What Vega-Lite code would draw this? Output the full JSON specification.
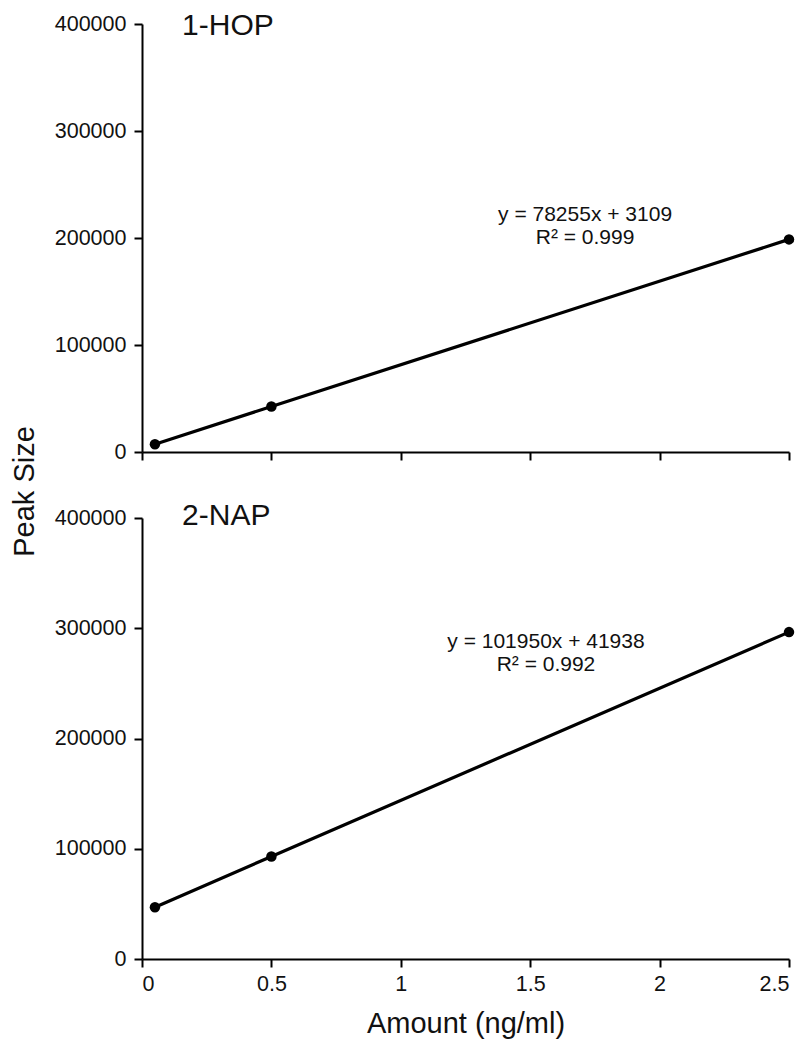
{
  "$schema": "https://vega.github.io/schema/vega-lite/v6.json",
  "padding": {"left": 10, "top": 11, "right": 5, "bottom": 5},
  "background": "white",
  "config": {
    "view": {"stroke": null},
    "font": "Liberation Sans",
    "axis": {
      "grid": false,
      "domainColor": "#000",
      "domainWidth": 2,
      "tickColor": "#000",
      "tickWidth": 2,
      "tickSize": 8,
      "labelFont": "Liberation Sans",
      "labelFontSize": 21.5,
      "labelColor": "#111",
      "titleFont": "Liberation Sans",
      "titleFontSize": 29,
      "titleFontWeight": "normal",
      "titleColor": "#111"
    },
    "axisX": {"labelPadding": 6, "titlePadding": 15},
    "axisY": {"labelPadding": 8, "titlePadding": 15}
  },
  "datasets": {
    "pts": [
      {"panel": "1-HOP", "amount": 0.05, "peak": 7200},
      {"panel": "1-HOP", "amount": 0.5, "peak": 42500},
      {"panel": "1-HOP", "amount": 2.5, "peak": 198700},
      {"panel": "2-NAP", "amount": 0.05, "peak": 47000},
      {"panel": "2-NAP", "amount": 0.5, "peak": 93000},
      {"panel": "2-NAP", "amount": 2.5, "peak": 296500}
    ],
    "notes": [
      {"panel": "1-HOP", "title": "1-HOP", "eq": "y = 78255x + 3109", "r2": "R² = 0.999"},
      {"panel": "2-NAP", "title": "2-NAP", "eq": "y = 101950x + 41938", "r2": "R² = 0.992"}
    ]
  },
  "spacing": 66,
  "bounds": "flush",
  "vconcat": [
    {
      "width": 647,
      "height": 428,
      "layer": [
        {
          "data": {"name": "pts"},
          "transform": [{"filter": "datum.panel === '1-HOP'"}],
          "mark": {"type": "line", "color": "#000", "strokeWidth": 3.2},
          "encoding": {
            "x": {"field": "amount", "type": "quantitative", "scale": {"domain": [0, 2.5], "nice": false},
                  "axis": {"labels": false, "title": null, "values": [0, 0.5, 1, 1.5, 2, 2.5]}},
            "y": {"field": "peak", "type": "quantitative", "scale": {"domain": [0, 400000], "nice": false},
                  "axis": {"values": [0, 100000, 200000, 300000, 400000], "format": "d", "title": "Peak Size", "titleY": 467}}
          }
        },
        {
          "data": {"name": "pts"},
          "transform": [{"filter": "datum.panel === '1-HOP'"}],
          "mark": {"type": "point", "filled": true, "color": "#000", "size": 110, "opacity": 1},
          "encoding": {
            "x": {"field": "amount", "type": "quantitative"},
            "y": {"field": "peak", "type": "quantitative"}
          }
        },
        {
          "data": {"name": "notes"},
          "transform": [{"filter": "datum.panel === '1-HOP'"}],
          "mark": {"type": "text", "align": "left", "baseline": "middle", "fontSize": 30, "color": "#111"},
          "encoding": {
            "x": {"datum": 0.155, "type": "quantitative"},
            "y": {"datum": 398000, "type": "quantitative"},
            "text": {"field": "title"}
          }
        },
        {
          "data": {"name": "notes"},
          "transform": [{"filter": "datum.panel === '1-HOP'"}],
          "mark": {"type": "text", "align": "center", "baseline": "middle", "fontSize": 21, "color": "#111"},
          "encoding": {
            "x": {"datum": 1.712, "type": "quantitative"},
            "y": {"datum": 221500, "type": "quantitative"},
            "text": {"field": "eq"}
          }
        },
        {
          "data": {"name": "notes"},
          "transform": [{"filter": "datum.panel === '1-HOP'"}],
          "mark": {"type": "text", "align": "center", "baseline": "middle", "fontSize": 21, "color": "#111"},
          "encoding": {
            "x": {"datum": 1.712, "type": "quantitative"},
            "y": {"datum": 200000, "type": "quantitative"},
            "text": {"field": "r2"}
          }
        }
      ]
    },
    {
      "width": 647,
      "height": 441,
      "layer": [
        {
          "data": {"name": "pts"},
          "transform": [{"filter": "datum.panel === '2-NAP'"}],
          "mark": {"type": "line", "color": "#000", "strokeWidth": 3.2},
          "encoding": {
            "x": {"field": "amount", "type": "quantitative", "scale": {"domain": [0, 2.5], "nice": false},
                  "axis": {"title": "Amount  (ng/ml)", "values": [0, 0.5, 1, 1.5, 2, 2.5], "format": "~g"}},
            "y": {"field": "peak", "type": "quantitative", "scale": {"domain": [0, 400000], "nice": false},
                  "axis": {"values": [0, 100000, 200000, 300000, 400000], "format": "d", "title": null}}
          }
        },
        {
          "data": {"name": "pts"},
          "transform": [{"filter": "datum.panel === '2-NAP'"}],
          "mark": {"type": "point", "filled": true, "color": "#000", "size": 110, "opacity": 1},
          "encoding": {
            "x": {"field": "amount", "type": "quantitative"},
            "y": {"field": "peak", "type": "quantitative"}
          }
        },
        {
          "data": {"name": "notes"},
          "transform": [{"filter": "datum.panel === '2-NAP'"}],
          "mark": {"type": "text", "align": "left", "baseline": "middle", "fontSize": 30, "color": "#111"},
          "encoding": {
            "x": {"datum": 0.155, "type": "quantitative"},
            "y": {"datum": 401800, "type": "quantitative"},
            "text": {"field": "title"}
          }
        },
        {
          "data": {"name": "notes"},
          "transform": [{"filter": "datum.panel === '2-NAP'"}],
          "mark": {"type": "text", "align": "center", "baseline": "middle", "fontSize": 21, "color": "#111"},
          "encoding": {
            "x": {"datum": 1.561, "type": "quantitative"},
            "y": {"datum": 287500, "type": "quantitative"},
            "text": {"field": "eq"}
          }
        },
        {
          "data": {"name": "notes"},
          "transform": [{"filter": "datum.panel === '2-NAP'"}],
          "mark": {"type": "text", "align": "center", "baseline": "middle", "fontSize": 21, "color": "#111"},
          "encoding": {
            "x": {"datum": 1.561, "type": "quantitative"},
            "y": {"datum": 266700, "type": "quantitative"},
            "text": {"field": "r2"}
          }
        }
      ]
    }
  ]
}
